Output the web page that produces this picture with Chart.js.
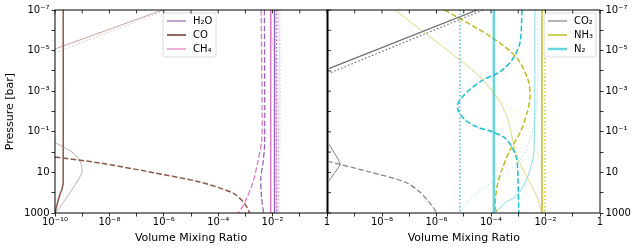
<!DOCTYPE html>
<html>
<head>
<meta charset="utf-8">
<script src="https://cdn.jsdelivr.net/npm/chart.js@4.4.0/dist/chart.umd.min.js"></script>
<style>
  html, body { margin: 0; padding: 0; background: #fff; }
  #wrap { position: relative; width: 639px; height: 250px; overflow: hidden; }
  #chartL { position: absolute; left: 0; top: 0; }
  #chartR { position: absolute; left: 318px; top: 0; }
</style>
</head>
<body>
<div id="wrap">
  <canvas id="chartL" width="336" height="250"></canvas>
  <canvas id="chartR" width="321" height="250"></canvas>
</div>
<script>
// ─── Axis ticks ───────────────────────────────────────────
const xTickValues = [1e-10, 1e-9, 1e-8, 1e-7, 1e-6, 1e-5, 1e-4, 1e-3, 1e-2, 1e-1, 1];
const xTickLabels = ['10⁻¹⁰', '', '10⁻⁸', '', '10⁻⁶', '', '10⁻⁴', '', '10⁻²', '', '1'];
const yTickValues = [1e-7, 1e-6, 1e-5, 1e-4, 1e-3, 1e-2, 1e-1, 1, 10, 100, 1000];
const yTickLabels = ['10⁻⁷', '', '10⁻⁵', '', '10⁻³', '', '10⁻¹', '', '10', '', '1000'];

// ─── Profiles: [pressure (bar), volume mixing ratio] ──────
// left panel
const coSolid      = [[1e-7, 2e-10], [30, 2e-10], [60, 1.85e-10], [130, 1.5e-10], [400, 1.18e-10], [1000, 1e-10]];
const coThin       = [[0.3, 8.5e-11], [1.0, 4.2e-10], [2.8, 8.3e-10], [9.6, 9.8e-10], [42, 5.4e-10], [160, 2.8e-10], [700, 1.3e-10], [1000, 1e-10]];
const coDashed     = [[1.74, 1e-10], [3.44, 4.4e-9], [9.6, 3.1e-7], [29.7, 2.1e-5], [102, 3.4e-4], [229, 7.2e-4], [500, 1.12e-3], [1000, 1.45e-3]];
const coTopSolid   = [[8.3e-6, 1e-10], [1e-7, 9.1e-7]];
const coTopDotted  = [[1.3e-5, 1e-10], [1e-7, 1.3e-6]];
const h2oSolid     = [[1e-7, 0.0118], [1000, 0.0118]];
const h2oDashed    = [[1e-7, 5.0e-3], [0.35, 5.1e-3], [3, 4.5e-3], [17, 3.7e-3], [160, 3.9e-3], [1000, 4.7e-3]];
const h2oDotted    = [[1e-7, 0.0141], [1000, 0.0141]];
const h2oFaint     = [[1e-7, 0.016], [1e-5, 0.0175], [1e-3, 0.017], [1, 0.0165], [1000, 0.016]];
const h2oFaintDot  = [[1e-7, 0.0185], [1e-3, 0.019], [10, 0.018], [1000, 0.017]];
const ch4Solid     = [[1e-7, 8.5e-3], [1000, 8.5e-3]];
const ch4Dashed    = [[1e-7, 3.8e-3], [1e-2, 4.1e-3], [0.25, 4.0e-3], [3.5, 2.8e-3], [33, 1.86e-3], [322, 9.3e-4], [1000, 5.5e-4]];
const ch4Faint     = [[1e-7, 8.5e-3], [3e-6, 9.5e-3], [3e-5, 0.013], [1000, 0.014]];
// right panel
const co2Edge      = [[1e-7, 1e-10], [1000, 1e-10]];
const co2Solid     = [[8.1e-5, 1e-10], [1e-7, 3.1e-5]];
const co2Dotted    = [[1.4e-4, 1e-10], [1e-7, 5.1e-5]];
const co2Thin      = [[0.32, 1e-10], [2.5, 2.6e-10], [4.4, 2.9e-10], [33, 1e-10]];
const co2Dashed    = [[2.8, 1e-10], [9.6, 3.6e-9], [29.6, 6.9e-8], [93, 2.45e-7], [325, 5.7e-7], [1000, 1.04e-6]];
const nh3Solid     = [[1e-7, 7.4e-3], [1000, 7.4e-3]];
const nh3Dotted    = [[1e-7, 9.5e-3], [1000, 9.5e-3]];
const nh3Dashed    = [[1e-7, 2.0e-6], [2.4e-6, 1.17e-4], [2.3e-5, 8.9e-4], [2.8e-4, 2.3e-3], [1.95e-3, 2.7e-3], [1.17e-2, 2.1e-3], [0.115, 1.15e-3], [0.79, 5.0e-4], [7.6, 2.5e-4], [52, 1.66e-4], [500, 1.41e-4], [1000, 1.66e-4]];
const nh3Thin      = [[1e-7, 3.0e-8], [2.9e-5, 7.2e-6], [2.0e-4, 4.0e-5], [1.95e-3, 1.66e-4], [1.86e-2, 3.9e-4], [0.18, 5.9e-4], [1.74, 9.1e-4], [17, 2.1e-3], [162, 4.9e-3], [1000, 7.4e-3]];
const nh3ThinDot   = [[2.0e-4, 4.0e-5], [1.95e-3, 1.66e-4], [6.0e-3, 5.0e-4], [2.6e-2, 1.48e-3], [0.25, 3.5e-3], [3.5, 6.3e-3], [74, 8.1e-3], [1000, 8.9e-3]];
const n2Solid      = [[1e-7, 1.27e-4], [1000, 1.27e-4]];
const n2Dotted     = [[1e-7, 7.2e-6], [1000, 7.2e-6]];
const n2Dashed     = [[1e-7, 1.38e-3], [4.3e-6, 1.15e-3], [2.9e-5, 5.9e-4], [1.12e-4, 2.1e-4], [2.8e-4, 5.1e-5], [1.1e-3, 1.32e-5], [3.8e-3, 6.2e-6], [8.5e-3, 6.2e-6], [2.6e-2, 1.12e-5], [5.8e-2, 3.1e-5], [0.10, 1.1e-4], [0.20, 3.2e-4], [0.56, 5.9e-4], [2.45, 8.9e-4], [23, 9.8e-4], [1000, 1.05e-3]];
const n2Thin       = [[1e-7, 4.1e-3], [0.79, 3.8e-3], [7.6, 2.7e-3], [52, 1.48e-3], [162, 7.6e-4], [324, 3.2e-4], [1000, 1.4e-4]];
const n2FaintDot   = [[1e-7, 5.2e-3], [2.7e-3, 4.9e-3], [0.25, 2.7e-3], [2.45, 1.15e-3], [17, 2.1e-4], [74, 4.0e-5], [500, 9.3e-6], [1000, 7.2e-6]];

const legendLeft  = ['H₂O', 'CO', 'CH₄'];
const legendRight = ['CO₂', 'NH₃', 'N₂'];

// ─── Styles ───────────────────────────────────────────────
const C = {
  purple: '#9467bd', purpleL: 'rgba(148,103,189,0.35)',
  brown: '#8c564b', brownL: 'rgba(140,86,75,0.6)',
  pink: '#e377c2', pinkL: 'rgba(227,119,194,0.5)',
  gray: '#7f7f7f', grayD: '#6f6f6f',
  olive: '#bcbd22', oliveL: 'rgba(188,189,34,0.7)',
  cyan: '#17becf', cyanL: 'rgba(23,190,207,0.65)', cyanF: 'rgba(23,190,207,0.45)',
};
const DASH = [5.5, 2.4];
const DOT = [1.4, 2.3];

Chart.defaults.font.family = "'DejaVu Sans', sans-serif";
Chart.defaults.font.size = 10;
Chart.defaults.color = '#000';

function line(pts, color, width, dash, tension) {
  return {
    data: pts.map(([p, v]) => ({ x: v, y: p })),
    borderColor: color,
    borderWidth: width,
    borderDash: dash || [],
    showLine: true,
    pointRadius: 0,
    tension: tension === undefined ? 0.3 : tension,
    fill: false,
  };
}

const tickIndex = (arr, v) => arr.findIndex(t => Math.abs(Math.log10(t / v)) < 1e-6);

// ─── Frame + mirrored inward ticks ────────────────────────
const framePlugin = {
  id: 'frame',
  afterDraw(chart, args, opts) {
    const { ctx, chartArea: a } = chart;
    const x = chart.scales.x, y = chart.scales.y;
    ctx.save();
    ctx.strokeStyle = '#000';
    ctx.lineWidth = 0.8;
    ctx.beginPath();
    xTickValues.forEach(v => {
      const px = x.getPixelForValue(v);
      ctx.moveTo(px, a.top);
      ctx.lineTo(px, a.top + 3.5);
    });
    if (opts.inner === 'left') {
      yTickValues.forEach(v => {
        const py = y.getPixelForValue(v);
        ctx.moveTo(a.left, py);
        ctx.lineTo(a.left + 3.5, py);
      });
    }
    ctx.stroke();
    ctx.lineWidth = 1;
    ctx.strokeRect(a.left, a.top, a.right - a.left, a.bottom - a.top);
    ctx.restore();
  },
};

// ─── Boxed legend ─────────────────────────────────────────
const boxLegend = {
  id: 'boxLegend',
  afterDatasetsDraw(chart, args, o) {
    const { ctx, chartArea: a } = chart;
    const x = o.fromRight ? a.right - o.offX - o.w : a.left + o.offX;
    const y = a.top + o.offY;
    ctx.save();
    ctx.beginPath();
    ctx.roundRect(x, y, o.w, o.h, 2);
    ctx.fillStyle = 'rgba(255,255,255,0.85)';
    ctx.fill();
    ctx.strokeStyle = '#d0d0d0';
    ctx.lineWidth = 0.8;
    ctx.stroke();
    o.items.forEach((it, i) => {
      const ly = y + 8 + i * 14;
      ctx.beginPath();
      ctx.strokeStyle = it.color;
      ctx.lineWidth = it.width;
      ctx.moveTo(x + 4, ly);
      ctx.lineTo(x + 23, ly);
      ctx.stroke();
      ctx.fillStyle = '#000';
      ctx.font = "10px 'DejaVu Sans'";
      ctx.textBaseline = 'middle';
      ctx.fillText(it.label, x + 30, ly);
    });
    ctx.restore();
  },
};

function xScale(hideFirst) {
  return {
    type: 'logarithmic', min: 1e-10, max: 1,
    afterBuildTicks: s => { s.ticks = xTickValues.map(v => ({ value: v })); },
    afterFit: s => { s.height = 37; },
    ticks: {
      autoSkip: false, minRotation: 0, maxRotation: 0, padding: 0, color: '#000',
      callback: v => {
        const i = tickIndex(xTickValues, v);
        return hideFirst && i === 0 ? '' : xTickLabels[i];
      },
    },
    grid: { drawOnChartArea: false, drawTicks: true, tickLength: 3.5, color: '#000', lineWidth: 0.8 },
    border: { display: false },
    title: { display: true, text: 'Volume Mixing Ratio', color: '#000', font: { size: 11 }, padding: { top: 0, bottom: 5 } },
  };
}

function yScale(position, withTitle) {
  return {
    type: 'logarithmic', position, reverse: true, min: 1e-7, max: 1000,
    afterBuildTicks: s => { s.ticks = yTickValues.map(v => ({ value: v })); },
    afterFit: s => { s.width = position === 'left' ? 55 : 39; },
    ticks: { autoSkip: false, padding: 2, color: '#000', callback: v => yTickLabels[tickIndex(yTickValues, v)] },
    grid: { drawOnChartArea: false, drawTicks: true, tickLength: 3.5, color: '#000', lineWidth: 0.8 },
    border: { display: false },
    title: { display: withTitle, text: 'Pressure [bar]', color: '#000', font: { size: 11 }, padding: { top: 4, bottom: 0 } },
  };
}

// ─── Left panel: H2O, CO, CH4 ─────────────────────────────
new Chart(document.getElementById('chartL'), {
  type: 'scatter',
  data: {
    datasets: [
      line(h2oFaint, C.purpleL, 0.8),
      line(h2oFaintDot, C.purpleL, 1.2, DOT),
      line(ch4Faint, C.pinkL, 0.8),
      line(coTopSolid, C.brownL, 0.9, [], 0),
      line(coTopDotted, 'rgba(140,86,75,0.45)', 0.9, DOT, 0),
      line(coThin, C.brownL, 0.8),
      line(coSolid, C.brown, 1.5),
      line(coDashed, C.brown, 1.5, DASH),
      line(ch4Solid, C.pink, 1.5, [], 0),
      line(ch4Dashed, C.pink, 1.3, DASH),
      line(h2oDashed, C.purple, 1.3, DASH),
      line(h2oSolid, C.purple, 1.5, [], 0),
      line(h2oDotted, C.purple, 1.3, DOT, 0),
    ],
  },
  options: {
    responsive: false,
    animation: false,
    layout: { padding: { top: 10, right: 9, left: 0, bottom: 0 } },
    plugins: {
      legend: { display: false },
      tooltip: { enabled: false },
      frame: {},
      boxLegend: {
        offX: 108, offY: 3, w: 53, h: 44,
        items: [
          { label: legendLeft[0], color: C.purple, width: 1.2 },
          { label: legendLeft[1], color: C.brown, width: 1.8 },
          { label: legendLeft[2], color: C.pink, width: 1.2 },
        ],
      },
    },
    scales: { x: xScale(false), y: yScale('left', true) },
  },
  plugins: [framePlugin, boxLegend],
});

// ─── Right panel: CO2, NH3, N2 ────────────────────────────
new Chart(document.getElementById('chartR'), {
  type: 'scatter',
  data: {
    datasets: [
      line(co2Edge, C.gray, 3, [], 0),
      line(co2Solid, C.grayD, 1.3, [], 0),
      line(co2Dotted, C.grayD, 1.3, DOT, 0),
      line(co2Thin, C.gray, 1.0, [], 0),
      line(co2Dashed, C.gray, 1.2, DASH),
      line(nh3Thin, C.oliveL, 0.8),
      line(nh3ThinDot, 'rgba(188,189,34,0.5)', 0.9, DOT),
      line(n2Thin, C.cyanL, 0.8),
      line(n2FaintDot, C.cyanF, 0.9, DOT),
      line(n2Dotted, C.cyan, 1.3, DOT, 0),
      line(n2Solid, C.cyanL, 2.5, [], 0),
      line(nh3Dashed, C.olive, 1.5, DASH),
      line(n2Dashed, C.cyan, 1.5, DASH),
      line(nh3Solid, C.olive, 1.5, [], 0),
      line(nh3Dotted, C.olive, 1.3, DOT, 0),
    ],
  },
  options: {
    responsive: false,
    animation: false,
    layout: { padding: { top: 10, right: 0, left: 9.5, bottom: 0 } },
    plugins: {
      legend: { display: false },
      tooltip: { enabled: false },
      frame: { inner: 'left' },
      boxLegend: {
        fromRight: true, offX: 4, offY: 3, w: 52, h: 44,
        items: [
          { label: legendRight[0], color: C.gray, width: 1.2 },
          { label: legendRight[1], color: C.olive, width: 1.5 },
          { label: legendRight[2], color: C.cyanL, width: 2.5 },
        ],
      },
    },
    scales: { x: xScale(true), y: yScale('right', false) },
  },
  plugins: [framePlugin, boxLegend],
});
</script>
</body>
</html>
